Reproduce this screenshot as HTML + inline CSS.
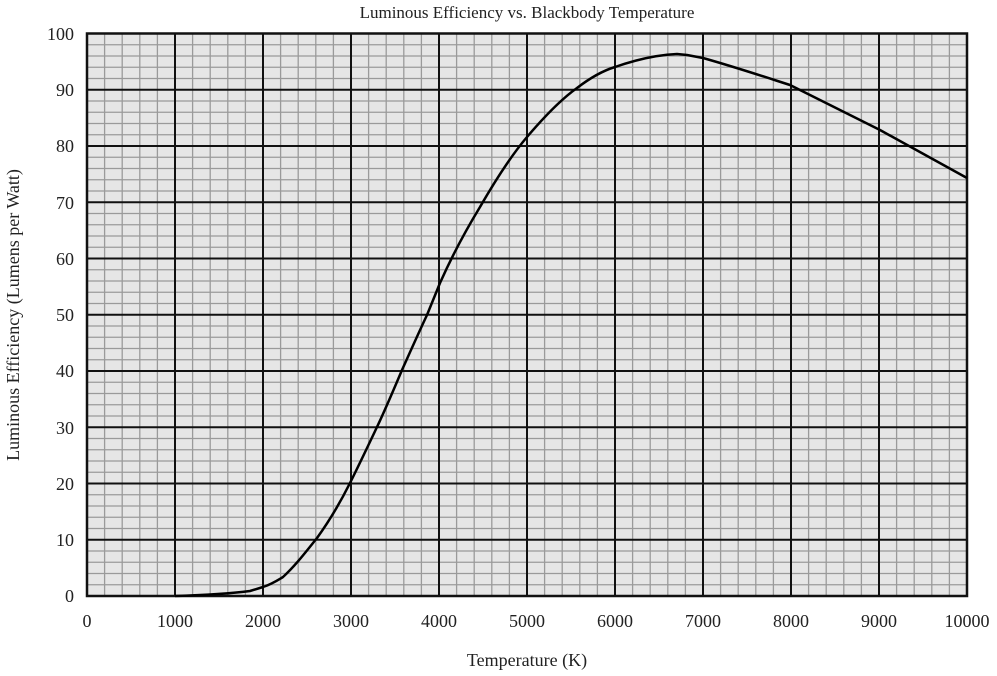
<!DOCTYPE html>
<html><head><style>body{margin:0;background:#fff}</style></head><body>
<svg width="997" height="671" xmlns="http://www.w3.org/2000/svg" font-family="Liberation Serif, serif" fill="#222">
<rect x="87" y="33.5" width="880" height="562.5" fill="#e6e6e6"/>
<g stroke="#9a9a9a" stroke-width="1.3" id="minor"></g>
<g stroke="#111" stroke-width="2" id="major"></g>
<script>
var mi=document.getElementById('minor'),ma=document.getElementById('major'),ns='http://www.w3.org/2000/svg';
function L(g,x1,y1,x2,y2){var l=document.createElementNS(ns,'line');l.setAttribute('x1',x1);l.setAttribute('y1',y1);l.setAttribute('x2',x2);l.setAttribute('y2',y2);g.appendChild(l);}
for(var i=0;i<=50;i++){var x=87+i*17.6;L(i%5?mi:ma,x,33.5,x,596);}
for(var j=0;j<=50;j++){var y=596-j*11.25;L(j%5?mi:ma,87,y,967,y);}
</script>
<rect x="87" y="33.5" width="880" height="562.5" fill="none" stroke="#111" stroke-width="2.5"/>
<path fill="none" stroke="#000" stroke-width="2.5" stroke-linejoin="round" d="M175,596 C210,595 235,593 250,591 L263,587 C272,584 278,580 283,577 C295,566 305,553 317,538 C330,520 340,503 350,483 C360,463 368,446 377,427 C386,408 394,389 402,370 C411,350 419,332 427,315 L440,283 C452,256 466,230 480,207 C495,181 510,157 527,137 C544,117 560,100 577,88 C590,78 602,71 615,67 C635,60 655,55 677,54 L687,55 L703,58 C735,67 762,76 790,85 L880,130 L967,178"/>
<text x="527" y="18" font-size="17" text-anchor="middle">Luminous Efficiency vs. Blackbody Temperature</text>
<text x="527" y="666" font-size="18" text-anchor="middle">Temperature (K)</text>
<text transform="translate(19,315) rotate(-90)" font-size="18" text-anchor="middle">Luminous Efficiency (Lumens per Watt)</text>
<g font-size="18" text-anchor="end">
<text x="74" y="40">100</text><text x="74" y="96">90</text><text x="74" y="152">80</text><text x="74" y="209">70</text><text x="74" y="265">60</text><text x="74" y="321">50</text><text x="74" y="377">40</text><text x="74" y="434">30</text><text x="74" y="490">20</text><text x="74" y="546">10</text><text x="74" y="602">0</text>
</g>
<g font-size="18" text-anchor="middle">
<text x="87" y="627">0</text><text x="175" y="627">1000</text><text x="263" y="627">2000</text><text x="351" y="627">3000</text><text x="439" y="627">4000</text><text x="527" y="627">5000</text><text x="615" y="627">6000</text><text x="703" y="627">7000</text><text x="791" y="627">8000</text><text x="879" y="627">9000</text><text x="967" y="627">10000</text>
</g>
</svg>
</body></html>
